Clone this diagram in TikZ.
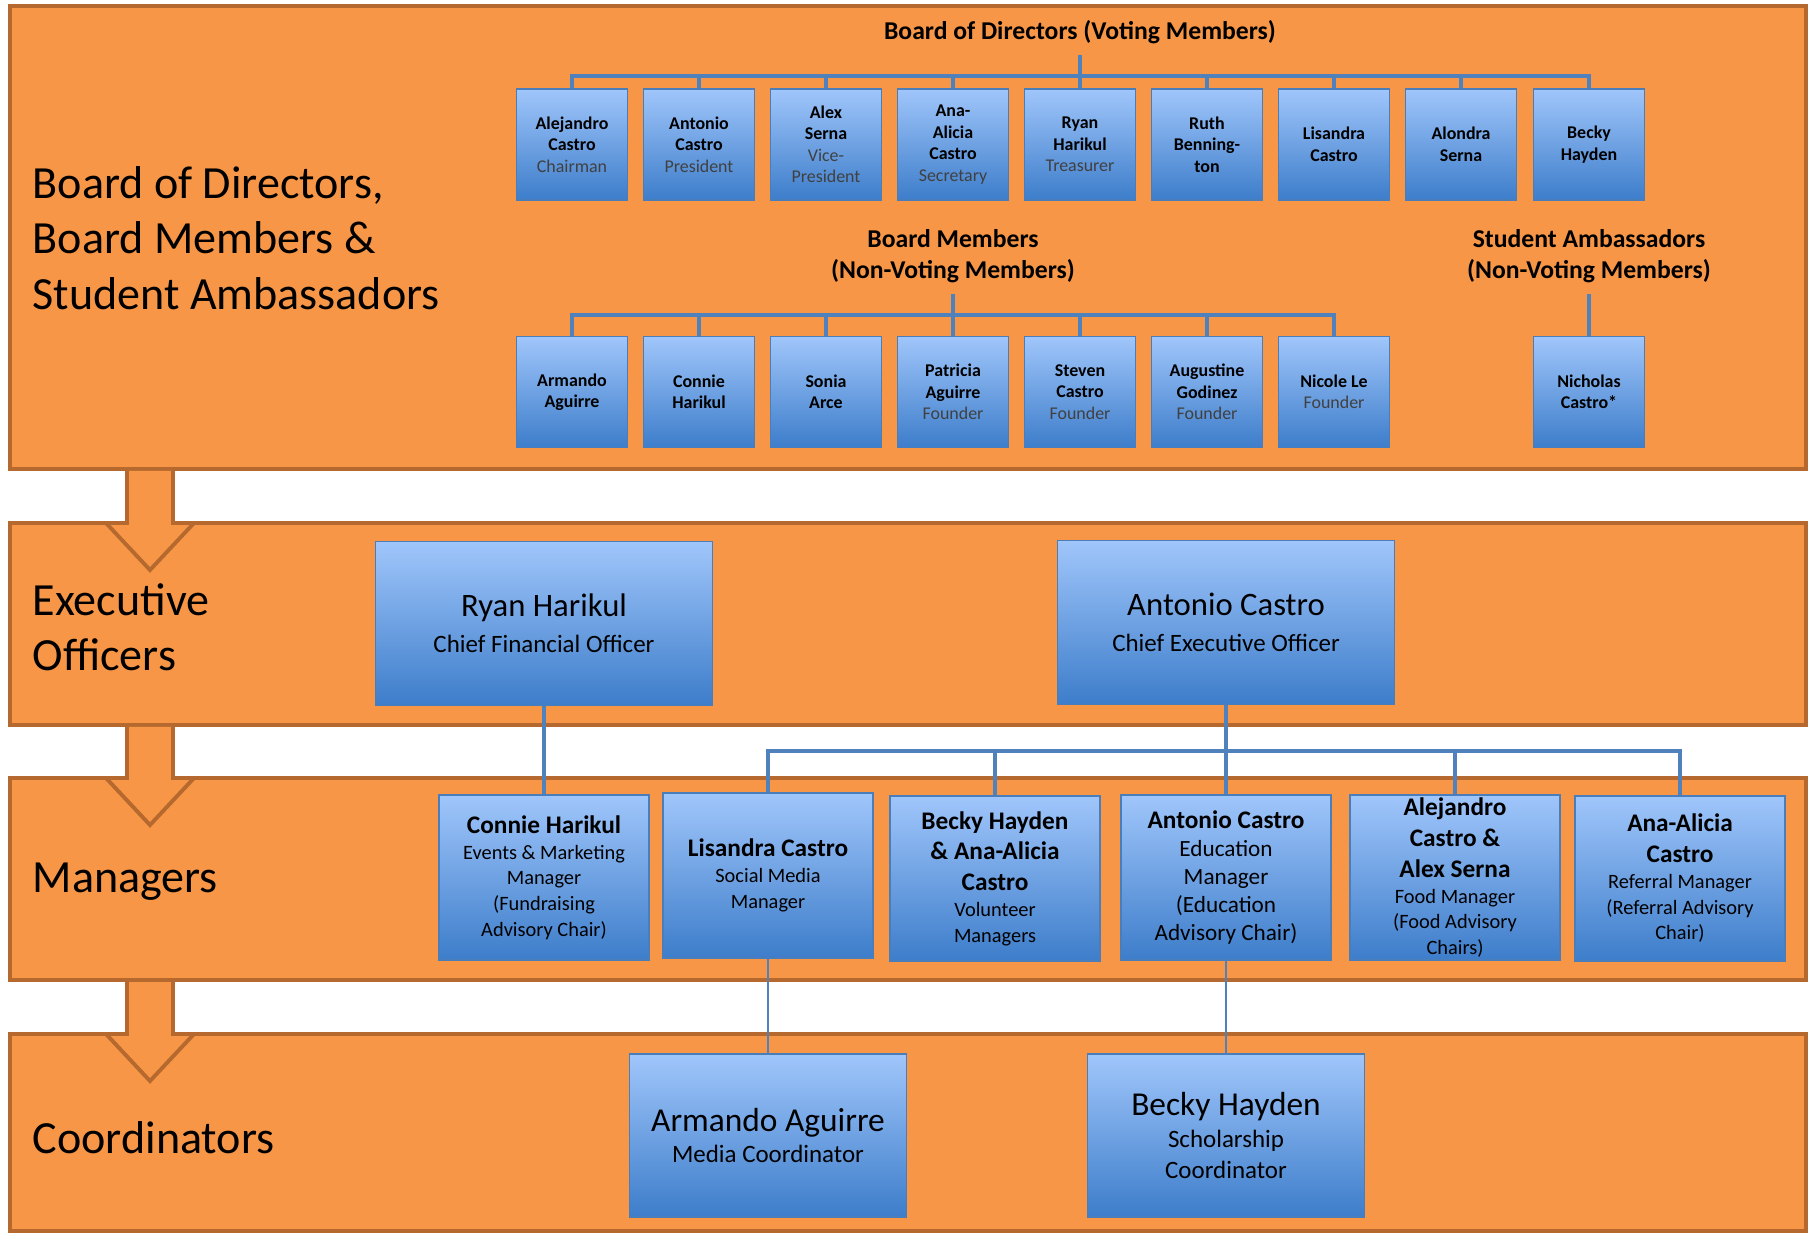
\documentclass[tikz,border=0pt]{standalone}
\usepackage{fontspec}
\setmainfont{Carlito}
\usepackage{xcolor}
\usepackage{tikz}

\definecolor{bandfill}{HTML}{F79646}
\definecolor{bandline}{HTML}{B5692F}
\definecolor{linkblue}{HTML}{4F81BD}
\definecolor{boxtop}{HTML}{A0C6FB}
\definecolor{boxbot}{HTML}{3D7DCA}
\definecolor{boxline}{HTML}{4A7EBB}

\newcommand{\brole}{\mdseries\color{black!75}}
\newcommand{\mrole}{\mdseries\fontsize{5.8}{7.3}\selectfont}
\newcommand{\erole}{\mdseries\fontsize{6.6}{7.9}\selectfont}
\newcommand{\xrole}{\fontsize{7.1}{10.2}\selectfont}
\newcommand{\crole}{\fontsize{7.1}{9.0}\selectfont}

\begin{document}
\begin{tikzpicture}[x=0.01cm, y=-0.01cm,
    band/.style={draw=bandline, fill=bandfill, line width=1.4pt},
    flow/.style={draw=bandline, fill=bandfill, line width=1.1pt},
    link/.style={draw=linkblue, line width=1.3pt},
    thinlink/.style={draw=linkblue, line width=0.7pt},
    person/.style={draw=boxline, line width=0.5pt, top color=boxtop, bottom color=boxbot, align=flush center, inner sep=0pt},
    member/.style={person, text width=1.05cm, minimum width=1.11cm, minimum height=1.11cm, font=\bfseries\fontsize{5.1}{6.1}\selectfont},
    manager/.style={person, text width=2.0cm, minimum width=2.1cm, minimum height=1.65cm, font=\bfseries\fontsize{7.2}{8.8}\selectfont},
    officer/.style={person, text width=3.2cm, minimum width=3.37cm, minimum height=1.64cm, font=\fontsize{9.3}{10.2}\selectfont},
    coordinator/.style={person, text width=2.6cm, minimum width=2.77cm, minimum height=1.63cm, font=\fontsize{9.5}{10.5}\selectfont},
    bandlabel/.style={anchor=west, align=left, inner sep=0pt, font=\fontsize{13.1}{15.7}\selectfont},
    grouptitle/.style={align=center, inner sep=3pt, font=\bfseries\fontsize{7.3}{8.9}\selectfont}]

    \useasboundingbox (0,0) rectangle (1812,1234);

    % levels
    \draw[band] (10,6) rectangle (1806,469);
    \draw[band] (10,523) rectangle (1806,725);
    \draw[band] (10,778) rectangle (1806,980);
    \draw[band] (10,1034) rectangle (1806,1231);

    % arrows between levels
    \filldraw[flow] (127,471) -- (127,523) -- (106,523) -- (150,570) -- (194,523) -- (173,523) -- (173,471);
    \filldraw[flow] (127,727) -- (127,778) -- (106,778) -- (150,825) -- (194,778) -- (173,778) -- (173,727);
    \filldraw[flow] (127,982) -- (127,1034) -- (106,1034) -- (150,1081) -- (194,1034) -- (173,1034) -- (173,982);

    \node[bandlabel] (bodLabel) at (32,238) {Board of Directors,\\Board Members \&\\Student Ambassadors};
    \node[bandlabel] (execLabel) at (32,627) {Executive\\Officers};
    \node[bandlabel] (mgrLabel) at (32,882) {Managers};
    \node[bandlabel] (crdLabel) at (32,1138) {Coordinators};

    % board of directors
    \node[grouptitle] (bodTitle) at (1080,32) {Board of Directors (Voting Members)};
    \node[member] (d1) at (572,144.5) {Alejandro\\Castro\\\brole Chairman\par};
    \node[member] (d2) at (699,144.5) {Antonio\\Castro\\\brole President\par};
    \node[member] (d3) at (826,144.5) {Alex\\Serna\\\brole Vice-\\President\par};
    \node[member] (d4) at (953,144.5) {Ana-\\Alicia\\Castro\\\brole Secretary\par};
    \node[member] (d5) at (1080,144.5) {Ryan\\Harikul\\\brole Treasurer\par};
    \node[member] (d6) at (1207,144.5) {Ruth\\Benning-\\ton};
    \node[member] (d7) at (1334,144.5) {Lisandra\\Castro};
    \node[member] (d8) at (1461,144.5) {Alondra\\Serna};
    \node[member] (d9) at (1589,144.5) {Becky\\Hayden};

    % board members and student ambassadors
    \node[grouptitle] (bmTitle) at (953,256) {Board Members\\(Non-Voting Members)};
    \node[member] (m1) at (572,392) {Armando\\Aguirre};
    \node[member] (m2) at (699,392) {Connie\\Harikul};
    \node[member] (m3) at (826,392) {Sonia\\Arce};
    \node[member] (m4) at (953,392) {Patricia\\Aguirre\\\brole Founder\par};
    \node[member] (m5) at (1080,392) {Steven\\Castro\\\brole Founder\par};
    \node[member] (m6) at (1207,392) {Augustine\\Godinez\\\brole Founder\par};
    \node[member] (m7) at (1334,392) {Nicole Le\\\brole Founder\par};
    \node[grouptitle] (saTitle) at (1589,256) {Student Ambassadors\\(Non-Voting Members)};
    \node[member] (sa1) at (1589,392) {Nicholas\\Castro*};

    % executive officers
    \node[officer] (cfo) at (544,623.5) {Ryan Harikul\\\xrole Chief Financial Officer\par};
    \node[officer] (ceo) at (1226,622.5) {Antonio Castro\\\xrole Chief Executive Officer\par};

    % managers
    \node[manager] (mgr1) at (544,877.5) {Connie Harikul\\\mrole Events \& Marketing\\Manager\\(Fundraising\\Advisory Chair)\par};
    \node[manager] (mgr2) at (768,875.5) {Lisandra Castro\\\mrole Social Media\\Manager\par};
    \node[manager] (mgr3) at (995,878.5) {Becky Hayden\\\& Ana-Alicia\\Castro\\\mrole Volunteer\\Managers\par};
    \node[manager] (mgr4) at (1226,877.5) {Antonio Castro\\\erole Education\\Manager\\(Education\\Advisory Chair)\par};
    \node[manager] (mgr5) at (1455,877.5) {Alejandro\\Castro \&\\Alex Serna\\\mrole Food Manager\\(Food Advisory\\Chairs)\par};
    \node[manager] (mgr6) at (1680,878.5) {Ana-Alicia\\Castro\\\mrole Referral Manager\\(Referral Advisory\\Chair)\par};

    % coordinators
    \node[coordinator] (crd1) at (768,1135.5) {Armando Aguirre\\\crole Media Coordinator\par};
    \node[coordinator] (crd2) at (1226,1135.5) {Becky Hayden\\\crole Scholarship\\Coordinator\par};

    % reporting lines
    \coordinate (bodBus) at (1080,76);
    \draw[link] (bodTitle) -- (bodBus);
    \foreach \d in {d1,d2,d3,d4,d5,d6,d7,d8,d9}
        \draw[link] (\d.north) |- (bodBus);

    \coordinate (bmBus) at (953,315);
    \draw[link] (bmTitle) -- (bmBus);
    \foreach \m in {m1,m2,m3,m4,m5,m6,m7}
        \draw[link] (\m.north) |- (bmBus);
    \draw[link] (saTitle) -- (sa1);

    \draw[link] (cfo) -- (mgr1);
    \coordinate (mgrBus) at (1226,751);
    \draw[link] (ceo) -- (mgrBus);
    \foreach \m in {mgr2,mgr3,mgr4,mgr5,mgr6}
        \draw[link] (\m.north) |- (mgrBus);

    \draw[thinlink] (mgr2) -- (crd1);
    \draw[thinlink] (mgr4) -- (crd2);
\end{tikzpicture}
\end{document}
